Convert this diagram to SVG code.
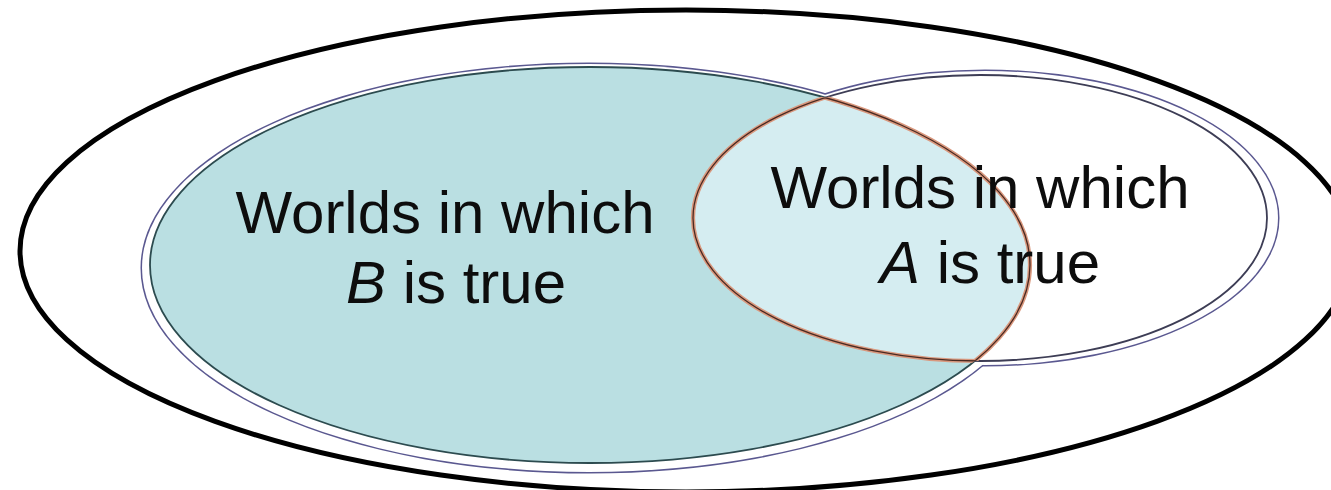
<svg xmlns="http://www.w3.org/2000/svg" width="1331" height="490" viewBox="0 0 1331 490">
  <style>
    .lbl { font-family: "Liberation Sans", Arial, sans-serif; font-size: 60px; fill: #0d0d0d; text-anchor: middle; }
    .halo { fill: none; stroke: #5a5890; stroke-width: 3; }
    .inner { fill: none; stroke-width: 1.8; }
    .lensEdge { fill: none; stroke: #d9987e; stroke-width: 4.2; }
    .lensCore { fill: none; stroke: #4a2a22; stroke-width: 1.3; }
  </style>
  <defs>
    <clipPath id="clipB"><ellipse cx="590" cy="265" rx="440" ry="198"/></clipPath>
    <clipPath id="clipA"><ellipse cx="980" cy="218" rx="287" ry="143"/></clipPath>
  </defs>
  <rect width="1331" height="490" fill="#ffffff"/>

  <g id="universe">
    <ellipse cx="686" cy="251" rx="666" ry="241" fill="none" stroke="#000" stroke-width="5"/>
  </g>

  <g id="union-outline">
    <ellipse class="halo" cx="589" cy="268" rx="447" ry="204"/>
    <ellipse class="halo" cx="985" cy="218" rx="293" ry="147"/>
    <ellipse cx="589" cy="268" rx="447" ry="204" fill="#fff"/>
    <ellipse cx="985" cy="218" rx="293" ry="147" fill="#fff"/>
  </g>

  <g id="B">
    <ellipse cx="590" cy="265" rx="440" ry="198" fill="#badfe2"/>
    <ellipse class="inner" cx="590" cy="265" rx="440" ry="198" stroke="#2c4b4f"/>
  </g>

  <g id="A">
    <ellipse class="inner" cx="980" cy="218" rx="287" ry="143" stroke="#3d3d55"/>
  </g>

  <g id="A-and-B">
    <ellipse cx="980" cy="218" rx="287" ry="143" fill="#d5edf1" clip-path="url(#clipB)"/>
    <ellipse class="lensEdge" cx="980" cy="218" rx="287" ry="143" clip-path="url(#clipB)"/>
    <ellipse class="lensEdge" cx="590" cy="265" rx="440" ry="198" clip-path="url(#clipA)"/>
    <ellipse class="lensCore" cx="980" cy="218" rx="287" ry="143" clip-path="url(#clipB)"/>
    <ellipse class="lensCore" cx="590" cy="265" rx="440" ry="198" clip-path="url(#clipA)"/>
  </g>

  <g id="labels">
    <text class="lbl" x="445" y="233">Worlds in which</text>
    <text class="lbl" x="456" y="303"><tspan font-style="italic">B</tspan> is true</text>
    <text class="lbl" x="980" y="208">Worlds in which</text>
    <text class="lbl" x="990" y="283"><tspan font-style="italic">A</tspan> is true</text>
  </g>
</svg>
